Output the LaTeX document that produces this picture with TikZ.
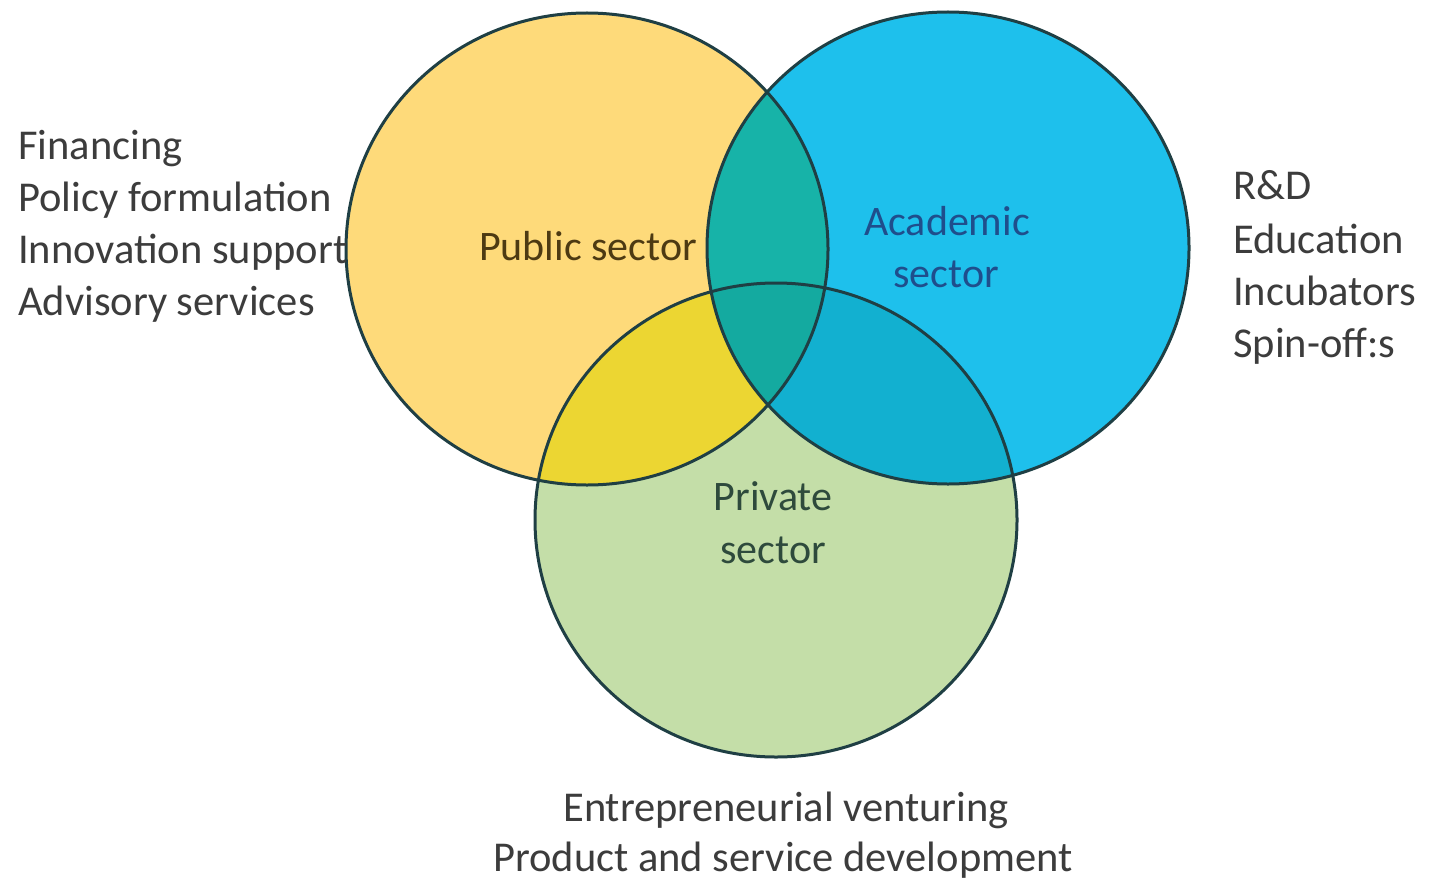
\documentclass[tikz,border=0pt]{standalone}
\usepackage{fontspec}
\setmainfont{Carlito}
\definecolor{pubC}{HTML}{FEDA7A}
\definecolor{acaC}{HTML}{1EC0EC}
\definecolor{priC}{HTML}{C4DEA8}
\definecolor{pubpriC}{HTML}{ECD632}
\definecolor{pubacaC}{HTML}{17B3A8}
\definecolor{acapriC}{HTML}{12B0D0}
\definecolor{allC}{HTML}{14AAA0}
\definecolor{edgeC}{HTML}{1F3F44}
\definecolor{sideT}{HTML}{3C3C3C}
\definecolor{pubT}{HTML}{4D3A12}
\definecolor{acaT}{HTML}{1F4E8C}
\definecolor{priT}{HTML}{2E4A3C}
\tikzset{
  sidetext/.style={font=\fontsize{42.5}{52}\selectfont, text=sideT, inner sep=0pt},
  lbl/.style={font=\fontsize{42}{52}\selectfont, inner sep=0pt, anchor=base},
  ring/.style={draw=edgeC, line width=3pt}
}
\begin{document}
\begin{tikzpicture}[x=1pt,y=-1pt]
\useasboundingbox (0,0) rectangle (1431,880);
\fill[white] (0,0) rectangle (1431,880);
\def\pubpath{(587,249) ellipse [x radius=241, y radius=236]}
\def\acapath{(948,248) ellipse [x radius=241, y radius=236]}
\def\pripath{(776,520) ellipse [x radius=241, y radius=237]}
\fill[pubC] \pubpath;
\fill[acaC] \acapath;
\fill[priC] \pripath;
\begin{scope}
  \clip \pubpath;
  \fill[pubpriC] \pripath;
  \fill[pubacaC] \acapath;
\end{scope}
\begin{scope}
  \clip \acapath;
  \fill[acapriC] \pripath;
  \clip \pubpath;
  \fill[allC] \pripath;
\end{scope}
\draw[ring] \pripath;
\draw[ring] \pubpath;
\draw[ring] \acapath;
\node (pub) [lbl, text=pubT] at (588,260) {Public sector};
\node (aca1) [lbl, text=acaT] at (947,235) {Academic};
\node (aca2) [lbl, text=acaT] at (946,287) {sector};
\node (pri1) [lbl, text=priT] at (773,510) {Private};
\node (pri2) [lbl, text=priT] at (773,563) {sector};
\node (l1) [sidetext, anchor=base west] at (18,159) {Financing};
\node (l2) [sidetext, anchor=base west] at (18,211) {Policy formulation};
\node (l3) [sidetext, anchor=base west] at (18,263) {Innovation support};
\node (l4) [sidetext, anchor=base west] at (18,315) {Advisory services};
\node (r1) [sidetext, anchor=base west] at (1233,199) {R\&D};
\node (r2) [sidetext, anchor=base west] at (1233,253) {Education};
\node (r3) [sidetext, anchor=base west] at (1233,305) {Incubators};
\node (r4) [sidetext, anchor=base west] at (1233,357) {Spin-off:s};
\node (b1) [sidetext, anchor=base] at (786,821) {Entrepreneurial venturing};
\node (b2) [sidetext, anchor=base] at (783,871) {Product and service development};
\end{tikzpicture}
\end{document}
